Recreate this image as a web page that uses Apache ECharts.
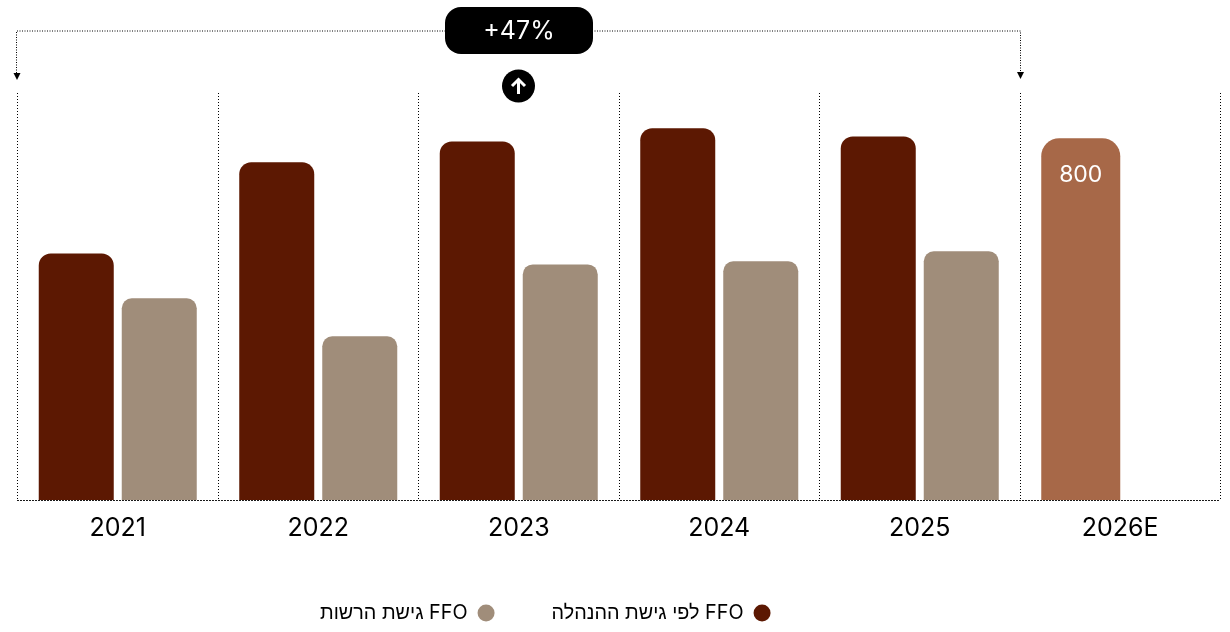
<!DOCTYPE html>
<html><head><meta charset="utf-8">
<style>html,body{margin:0;padding:0;background:#fff}#c{width:1230px;height:632px}</style>
<script src="https://cdn.jsdelivr.net/npm/echarts@6/dist/echarts.min.js"></script>
</head><body><div id="c"></div>
<script>
const categories = ['2021','2022','2023','2024','2025','2026E'];
const managementFFO = [545,747,793,822,804,null];
const authorityFFO = [446,362,521,528,550,null];
const estimateFFO = [null,null,null,null,null,800];
const managementName = '\u202BFFO לפי גישת ההנהלה\u202C';
const authorityName = '\u202BFFO גישת הרשות\u202C';
const changeLabel = '+47%';
const FONT = 'Inter, "Noto Sans", sans-serif';
const chart = echarts.init(document.getElementById('c'), null, {renderer:'canvas'});
const dotted = {color:'#000', width:1, type:[1,2]};
const bracket = {stroke:'#000', lineWidth:1, lineDash:[1,1.5]};
chart.setOption({
  animation:false,
  backgroundColor:'#fff',
  grid:{left:17.5,width:1203,top:93,bottom:132,containLabel:false},
  legend:{
    data:[authorityName,managementName],
    bottom:4,left:315,
    align:'right',icon:'circle',itemWidth:27,itemHeight:17,itemGap:57,
    textStyle:{fontFamily:FONT,fontSize:19.8,color:'#000'}
  },
  xAxis:[
    {type:'category',data:categories,
     axisLine:{show:true,lineStyle:dotted},axisTick:{show:false},
     splitLine:{show:true,lineStyle:dotted},
     axisLabel:{fontFamily:FONT,fontSize:25,color:'#000',margin:16}},
    {type:'category',data:categories,show:false}
  ],
  yAxis:{type:'value',min:0,max:900,show:false,splitLine:{show:false}},
  series:[
    {name:managementName,type:'bar',data:managementFFO,barWidth:75,barGap:'10.67%',
     itemStyle:{color:'#5c1802',borderRadius:[12,12,0,0]}},
    {name:authorityName,type:'bar',data:authorityFFO,barWidth:75,barGap:'10.67%',
     itemStyle:{color:'#a08d7a',borderRadius:[10,10,0,0]}},
    {name:'estimate',type:'bar',xAxisIndex:1,data:estimateFFO,barWidth:79,barGap:0,
     itemStyle:{color:'#a76848',borderRadius:[18,18,0,0]},
     label:{show:true,position:'insideTop',distance:25,color:'#fff',fontFamily:FONT,fontSize:23}},
    {name:'estimateSpacer',type:'bar',xAxisIndex:1,data:[],barWidth:79,barGap:0}
  ],
  graphic:[
    {type:'polyline',shape:{points:[[16.5,73],[16.5,31],[1020.5,31],[1020.5,73]]},style:{fill:null,...bracket},silent:true},
    {type:'polygon',shape:{points:[[13.5,73],[20.5,73],[17,80]]},style:{fill:'#000'},silent:true},
    {type:'polygon',shape:{points:[[1017,72],[1024,72],[1020.5,79]]},style:{fill:'#000'},silent:true},
    {type:'rect',shape:{x:445,y:7,width:148,height:47,r:16},style:{fill:'#000'},silent:true},
    {type:'text',style:{x:519,y:31,text:changeLabel,fill:'#fff',font:'25px '+FONT,align:'center',verticalAlign:'middle'},silent:true},
    {type:'circle',shape:{cx:518.5,cy:86,r:16.5},style:{fill:'#000'},silent:true},
    {type:'polyline',shape:{points:[[518.5,94],[518.5,80]]},style:{fill:null,stroke:'#fff',lineWidth:3},silent:true},
    {type:'polyline',shape:{points:[[512,86],[518.5,79.5],[525,86]]},style:{fill:null,stroke:'#fff',lineWidth:3},silent:true}
  ]
});
</script></body></html>
